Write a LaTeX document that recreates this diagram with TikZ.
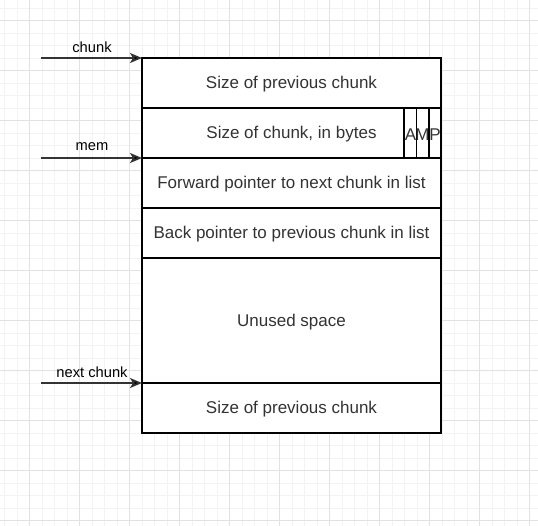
\documentclass[tikz,border=0pt]{standalone}
\usepackage{fontspec}
\setmainfont{Liberation Sans}
\usetikzlibrary{arrows.meta}
\definecolor{ink}{HTML}{333333}
\definecolor{minorgrid}{HTML}{F3F3F3}
\definecolor{majorgrid}{HTML}{E2E2E2}
\tikzset{
  cell/.style={draw=black, line width=1.3bp, fill=white},
  lbl/.style={font=\fontsize{17bp}{20bp}\selectfont, text=ink},
  ptrlbl/.style={font=\fontsize{14.7bp}{17bp}\selectfont, text=black},
  ptr/.style={draw=ink, line width=1.6bp, -{Stealth[length=12bp,width=10bp,inset=3bp,fill=black]}},
}
\begin{document}
\begin{tikzpicture}[x=1bp,y=-1bp]
\useasboundingbox (0,0) rectangle (538,526);
% grid
\foreach \i in {0,...,43} {
  \pgfmathsetmacro\xx{4.5+12.5*\i}
  \draw[minorgrid, line width=0.8bp] (\xx,0) -- (\xx,526);
}
\foreach \i in {0,...,42} {
  \pgfmathsetmacro\yy{8.2+12.5*\i}
  \draw[minorgrid, line width=0.8bp] (0,\yy) -- (538,\yy);
}
\foreach \i in {0,...,10} {
  \pgfmathsetmacro\xx{29.5+50*\i}
  \draw[majorgrid, line width=1bp] (\xx,0) -- (\xx,526);
}
\foreach \i in {0,...,10} {
  \pgfmathsetmacro\yy{20.7+50*\i}
  \draw[majorgrid, line width=1bp] (0,\yy) -- (538,\yy);
}
% cells
\draw[cell] (142,58) rectangle (441,108);
\node[lbl] (prev) at (291.5,84.5) {Size of previous chunk};
\draw[cell] (142,108) rectangle (441,158);
\node[lbl] (size) at (291.5,134.5) {Size of chunk, in bytes};
\draw[cell] (404,108) rectangle (416.5,158);
\draw[cell] (416.5,108) rectangle (429,158);
\draw[cell] (429,108) rectangle (441,158);
\node[lbl, inner sep=0pt] (A) at (410.5,134.5) {A};
\node[lbl, inner sep=0pt] (M) at (422.5,134.5) {M};
\node[lbl, inner sep=0pt] (P) at (435,134.5) {P};
\draw[cell] (142,158) rectangle (441,208);
\node[lbl] (fwd) at (291.5,184.5) {Forward pointer to next chunk in list};
\draw[cell] (142,208) rectangle (441,258);
\node[lbl] (bck) at (291.5,234.5) {Back pointer to previous chunk in list};
\draw[cell] (142,258) rectangle (441,383);
\node[lbl] (unused) at (291.5,322) {Unused space};
\draw[cell] (142,383) rectangle (441,433);
\node[lbl] (prev2) at (291.5,409.5) {Size of previous chunk};
% pointers
\coordinate (c0) at (41,58);
\coordinate (c1) at (142,58);
\coordinate (m0) at (41,158);
\coordinate (m1) at (142,158);
\coordinate (n0) at (41,383);
\coordinate (n1) at (142,383);
\draw[ptr] (c0) -- (c1);
\draw[ptr] (m0) -- (m1);
\draw[ptr] (n0) -- (n1);
\node[ptrlbl] (lc) at (92,47) {chunk};
\node[ptrlbl] (lm) at (92,147) {mem};
\node[ptrlbl] (ln) at (92,372) {next chunk};
\end{tikzpicture}
\end{document}
